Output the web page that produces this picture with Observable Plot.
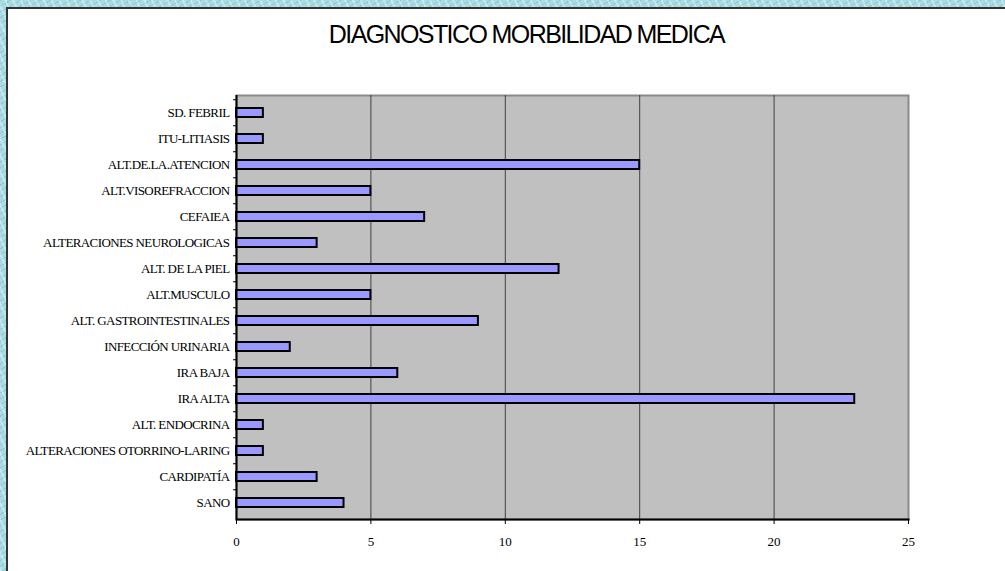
<!DOCTYPE html>
<html><head><meta charset="utf-8">
<script src="https://cdn.jsdelivr.net/npm/d3@7"></script>
<script src="https://cdn.jsdelivr.net/npm/@observablehq/plot@0.6"></script>
<style>
html,body{margin:0;padding:0;width:1005px;height:571px;overflow:hidden}
body{position:relative;background:
  repeating-linear-gradient(65deg, rgba(255,255,255,0.35) 0 2px, transparent 2px 7px),
  repeating-linear-gradient(150deg, rgba(90,170,190,0.35) 0 1px, transparent 1px 5px),
  #a9dbe4;}
#panel{position:absolute;left:6px;top:7px;right:0;bottom:0;background:#fff;border-left:2px solid #333;border-top:2px solid #333}
#title{position:absolute;top:22px;left:0;width:1053px;text-align:center;font-family:"Liberation Sans",Arial,sans-serif;font-size:25px;letter-spacing:-1.6px;line-height:25px;color:#000}
#chart{position:absolute;left:0;top:60px}
#chart g[aria-label="y-axis tick label"] text{letter-spacing:-0.6px}
</style></head><body>
<div id="panel"></div>
<div id="title">DIAGNOSTICO MORBILIDAD MEDICA</div>
<div id="chart"></div>
<script>
const categories = [
  "SD. FEBRIL",
  "ITU-LITIASIS",
  "ALT.DE.LA.ATENCION",
  "ALT.VISOREFRACCION",
  "CEFAIEA",
  "ALTERACIONES NEUROLOGICAS",
  "ALT. DE LA PIEL",
  "ALT.MUSCULO",
  "ALT. GASTROINTESTINALES",
  "INFECCIÓN URINARIA",
  "IRA BAJA",
  "IRA ALTA",
  "ALT. ENDOCRINA",
  "ALTERACIONES OTORRINO-LARING",
  "CARDIPATÍA",
  "SANO"
];
const values = [1, 1, 15, 5, 7, 3, 12, 5, 9, 2, 6, 23, 1, 1, 3, 4];
const xTicks = [0, 5, 10, 15, 20, 25];
const gridValues = [5, 10, 15, 20];

const data = categories.map((c, i) => ({category: c, value: values[i]}));

const chart = Plot.plot({
  width: 1005,
  height: 511,
  marginLeft: 236,
  marginRight: 97,
  marginTop: 35,
  marginBottom: 52,
  style: {background: "transparent", fontFamily: '"Liberation Serif", "Times New Roman", serif', overflow: "visible", color: "#000"},
  x: {domain: [0, 25]},
  y: {domain: categories, paddingInner: 0.66, paddingOuter: 0.33},
  marks: [
    Plot.frame({fill: "#c0c0c0", stroke: "#8a8a8a", strokeWidth: 2}),
    Plot.ruleX(gridValues, {stroke: "#404040", strokeWidth: 1}),
    Plot.barX(data, {x: "value", y: "category", fill: "#9999ff", stroke: "#000", strokeWidth: 2}),
    Plot.ruleX([0], {stroke: "#000", strokeWidth: 2}),
    Plot.frame({anchor: "bottom", stroke: "#000", strokeWidth: 2}),
    Plot.axisX({ticks: xTicks, tickSize: 5, tickPadding: 12, fontSize: 13, label: null, tickFormat: d => d, stroke: "#000"}),
    Plot.axisY({tickSize: 0, tickPadding: 7, fontSize: 13, label: null}),
    Plot.axisY({tickSize: 3, text: null, dy: -13.25, label: null, stroke: "#000"})
  ]
});
document.getElementById("chart").append(chart);
</script>
</body></html>
